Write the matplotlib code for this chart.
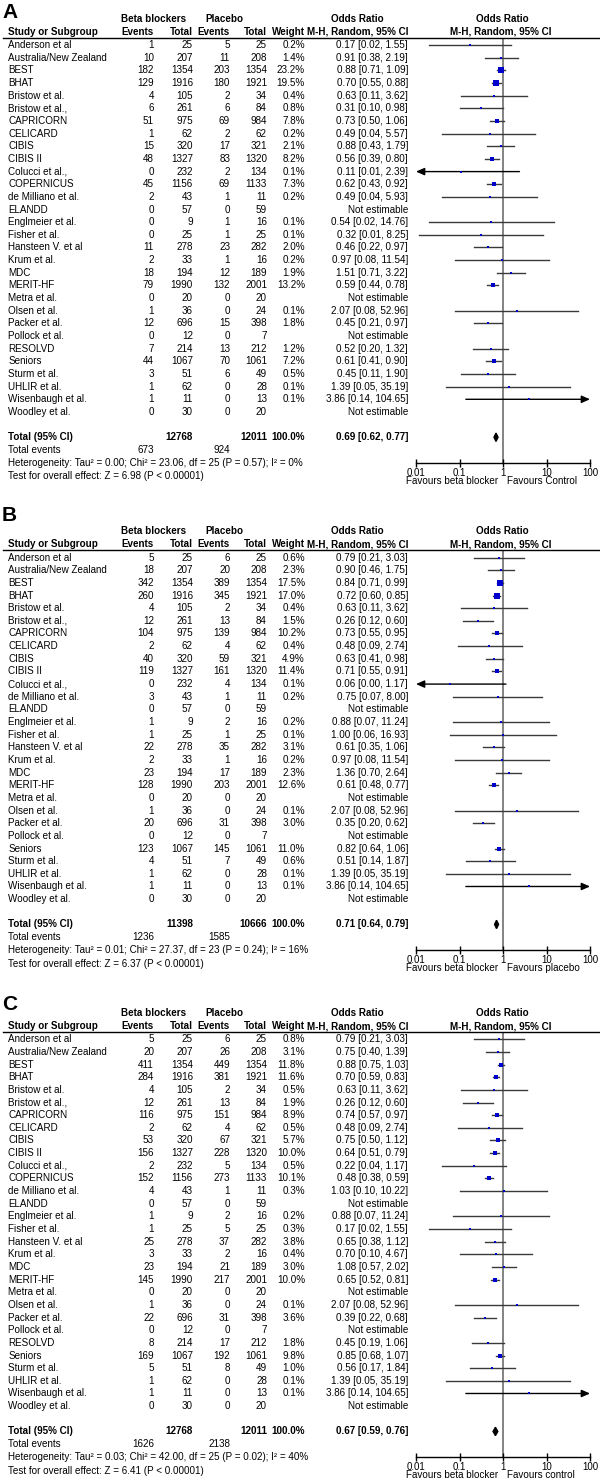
import numpy as np
import matplotlib
matplotlib.use('Agg')
import matplotlib.pyplot as plt
from matplotlib.transforms import blended_transform_factory

plt.rcParams['font.family'] = ['Liberation Sans', 'DejaVu Sans']
FS = 7.1
nan = np.nan

# ---------------- data ----------------
studies_ac = ['Anderson et al', 'Australia/New Zealand', 'BEST', 'BHAT', 'Bristow et al.',
              'Bristow et al.,', 'CAPRICORN', 'CELICARD', 'CIBIS', 'CIBIS II', 'Colucci et al.,',
              'COPERNICUS', 'de Milliano et al.', 'ELANDD', 'Englmeier et al.', 'Fisher et al.',
              'Hansteen V. et al', 'Krum et al.', 'MDC', 'MERIT-HF', 'Metra et al.', 'Olsen et al.',
              'Packer et al.', 'Pollock et al.', 'RESOLVD', 'Seniors', 'Sturm et al.', 'UHLIR et al.',
              'Wisenbaugh et al.', 'Woodley et al.']
total_bb_ac = [25, 207, 1354, 1916, 105, 261, 975, 62, 320, 1327, 232, 1156, 43, 57, 9, 25,
               278, 33, 194, 1990, 20, 36, 696, 12, 214, 1067, 51, 62, 11, 30]
total_pl_ac = [25, 208, 1354, 1921, 34, 84, 984, 62, 321, 1320, 134, 1133, 11, 59, 16, 25,
               282, 16, 189, 2001, 20, 24, 398, 7, 212, 1061, 49, 28, 13, 20]

# panel A
events_bb_a = [1, 10, 182, 129, 4, 6, 51, 1, 15, 48, 0, 45, 2, 0, 0, 0, 11, 2, 18, 79, 0, 1, 12, 0, 7, 44, 3, 1, 1, 0]
events_pl_a = [5, 11, 203, 180, 2, 6, 69, 2, 17, 83, 2, 69, 1, 0, 1, 1, 23, 1, 12, 132, 0, 0, 15, 0, 13, 70, 6, 0, 0, 0]
weight_a = [0.2, 1.4, 23.2, 19.5, 0.4, 0.8, 7.8, 0.2, 2.1, 8.2, 0.1, 7.3, 0.2, nan, 0.1, 0.1,
            2.0, 0.2, 1.9, 13.2, nan, 0.1, 1.8, nan, 1.2, 7.2, 0.5, 0.1, 0.1, nan]
or_a = [0.17, 0.91, 0.88, 0.70, 0.63, 0.31, 0.73, 0.49, 0.88, 0.56, 0.11, 0.62, 0.49, nan, 0.54, 0.32,
        0.46, 0.97, 1.51, 0.59, nan, 2.07, 0.45, nan, 0.52, 0.61, 0.45, 1.39, 3.86, nan]
lo_a = [0.02, 0.38, 0.71, 0.55, 0.11, 0.10, 0.50, 0.04, 0.43, 0.39, 0.0054, 0.43, 0.04, nan, 0.02, 0.012,
        0.22, 0.08, 0.71, 0.44, nan, 0.08, 0.21, nan, 0.20, 0.41, 0.11, 0.05, 0.14, nan]
hi_a = [1.55, 2.19, 1.09, 0.88, 3.62, 0.98, 1.06, 5.57, 1.79, 0.80, 2.39, 0.92, 5.93, nan, 14.76, 8.25,
        0.97, 11.54, 3.22, 0.78, nan, 52.96, 0.97, nan, 1.32, 0.90, 1.90, 35.19, 104.65, nan]
total_a = (12768, 12011, 673, 924, 0.69, 0.62, 0.77)
het_a = (0.00, 23.06, 25, 0.57, 0, 6.98)

# panel B
studies_b = ['Anderson et al', 'Australia/New Zealand', 'BEST', 'BHAT', 'Bristow et al.',
             'Bristow et al.,', 'CAPRICORN', 'CELICARD', 'CIBIS', 'CIBIS II', 'Colucci et al.,',
             'de Milliano et al.', 'ELANDD', 'Englmeier et al.', 'Fisher et al.', 'Hansteen V. et al',
             'Krum et al.', 'MDC', 'MERIT-HF', 'Metra et al.', 'Olsen et al.', 'Packer et al.',
             'Pollock et al.', 'Seniors', 'Sturm et al.', 'UHLIR et al.', 'Wisenbaugh et al.',
             'Woodley et al.']
events_bb_b = [5, 18, 342, 260, 4, 12, 104, 2, 40, 119, 0, 3, 0, 1, 1, 22, 2, 23, 128, 0, 1, 20, 0, 123, 4, 1, 1, 0]
total_bb_b = [25, 207, 1354, 1916, 105, 261, 975, 62, 320, 1327, 232, 43, 57, 9, 25, 278, 33, 194,
              1990, 20, 36, 696, 12, 1067, 51, 62, 11, 30]
events_pl_b = [6, 20, 389, 345, 2, 13, 139, 4, 59, 161, 4, 1, 0, 2, 1, 35, 1, 17, 203, 0, 0, 31, 0, 145, 7, 0, 0, 0]
total_pl_b = [25, 208, 1354, 1921, 34, 84, 984, 62, 321, 1320, 134, 11, 59, 16, 25, 282, 16, 189,
              2001, 20, 24, 398, 7, 1061, 49, 28, 13, 20]
weight_b = [0.6, 2.3, 17.5, 17.0, 0.4, 1.5, 10.2, 0.4, 4.9, 11.4, 0.1, 0.2, nan, 0.2, 0.1, 3.1,
            0.2, 2.3, 12.6, nan, 0.1, 3.0, nan, 11.0, 0.6, 0.1, 0.1, nan]
or_b = [0.79, 0.90, 0.84, 0.72, 0.63, 0.26, 0.73, 0.48, 0.63, 0.71, 0.06, 0.75, nan, 0.88, 1.00, 0.61,
        0.97, 1.36, 0.61, nan, 2.07, 0.35, nan, 0.82, 0.51, 1.39, 3.86, nan]
lo_b = [0.21, 0.46, 0.71, 0.60, 0.11, 0.12, 0.55, 0.09, 0.41, 0.55, 0.003, 0.07, nan, 0.07, 0.06, 0.35,
        0.08, 0.70, 0.48, nan, 0.08, 0.20, nan, 0.64, 0.14, 0.05, 0.14, nan]
hi_b = [3.03, 1.75, 0.99, 0.85, 3.62, 0.60, 0.95, 2.74, 0.98, 0.91, 1.17, 8.00, nan, 11.24, 16.93, 1.06,
        11.54, 2.64, 0.77, nan, 52.96, 0.62, nan, 1.06, 1.87, 35.19, 104.65, nan]
total_b = (11398, 10666, 1236, 1585, 0.71, 0.64, 0.79)
het_b = (0.01, 27.37, 23, 0.24, 16, 6.37)

# panel C
events_bb_c = [5, 20, 411, 284, 4, 12, 116, 2, 53, 156, 2, 152, 4, 0, 1, 1, 25, 3, 23, 145, 0, 1, 22, 0, 8, 169, 5, 1, 1, 0]
events_pl_c = [6, 26, 449, 381, 2, 13, 151, 4, 67, 228, 5, 273, 1, 0, 2, 5, 37, 2, 21, 217, 0, 0, 31, 0, 17, 192, 8, 0, 0, 0]
weight_c = [0.8, 3.1, 11.8, 11.6, 0.5, 1.9, 8.9, 0.5, 5.7, 10.0, 0.5, 10.1, 0.3, nan, 0.2, 0.3,
            3.8, 0.4, 3.0, 10.0, nan, 0.1, 3.6, nan, 1.8, 9.8, 1.0, 0.1, 0.1, nan]
or_c = [0.79, 0.75, 0.88, 0.70, 0.63, 0.26, 0.74, 0.48, 0.75, 0.64, 0.22, 0.48, 1.03, nan, 0.88, 0.17,
        0.65, 0.70, 1.08, 0.65, nan, 2.07, 0.39, nan, 0.45, 0.85, 0.56, 1.39, 3.86, nan]
lo_c = [0.21, 0.40, 0.75, 0.59, 0.11, 0.12, 0.57, 0.09, 0.50, 0.51, 0.04, 0.38, 0.10, nan, 0.07, 0.02,
        0.38, 0.10, 0.57, 0.52, nan, 0.08, 0.22, nan, 0.19, 0.68, 0.17, 0.05, 0.14, nan]
hi_c = [3.03, 1.39, 1.03, 0.83, 3.62, 0.60, 0.97, 2.74, 1.12, 0.79, 1.17, 0.59, 10.22, nan, 11.24, 1.55,
        1.12, 4.67, 2.02, 0.81, nan, 52.96, 0.68, nan, 1.06, 1.07, 1.84, 35.19, 104.65, nan]
total_c = (12768, 12011, 1626, 2138, 0.67, 0.59, 0.76)
het_c = (0.03, 42.00, 25, 0.02, 40, 6.41)

# ---------------- layout ----------------
W, H = 600, 1482
ROW = 12.65
X_NAME, X_E1, X_N1, X_E2, X_N2, X_W, X_OR = 8.5, 154, 193, 230, 267, 305, 408
FOREST_L, FOREST_R = 416, 590
LINE_C = '#3a3a3a'
SQ_C = '#0000cc'


def draw_panel(fig, letter, letter_y, line_y, names, e1, n1, e2, n2, weight, odds, lo, hi,
               totals, het, right_label):
    n = len(names)
    t_row = n + 1
    bottom = t_row + 2
    height = (bottom + 0.6) * ROW
    ax = fig.add_axes([FOREST_L / W, 1 - (line_y + height) / H,
                       (FOREST_R - FOREST_L) / W, height / H])
    ax.set_xscale('log')
    ax.set_xlim(0.01, 100)
    ax.set_ylim(bottom, -0.6)
    for s in ['top', 'left', 'right']:
        ax.spines[s].set_visible(False)
    ax.spines['bottom'].set_linewidth(1)
    ax.set_yticks([])
    ax.set_xticks([0.01, 0.1, 1, 10, 100])
    ax.set_xticklabels(['0.01', '0.1', '1', '10', '100'])
    ax.minorticks_off()
    ax.tick_params(axis='x', direction='inout', length=6, width=1, labelsize=7, pad=1)
    ax.patch.set_visible(False)
    ax.axvline(1, color='#6e6e6e', lw=1.2, zorder=1)

    tr = blended_transform_factory(fig.transFigure, ax.transData)

    def put(x, y, s, ha='right', bold=False):
        ax.text(x / W, y, s, transform=tr, ha=ha, va='center', fontsize=FS,
                fontweight='bold' if bold else 'normal')

    # header
    fig.text(2 / W, 1 - letter_y / H, letter, fontsize=15, fontweight='bold', va='center')
    hy1, hy2 = -2.1, -1.05
    put(X_E1, hy1, 'Beta blockers', ha='center', bold=True)
    put(224, hy1, 'Placebo', ha='center', bold=True)
    put(357, hy1, 'Odds Ratio', ha='center', bold=True)
    put(502, hy1, 'Odds Ratio', ha='center', bold=True)
    put(X_NAME, hy2, 'Study or Subgroup', ha='left', bold=True)
    put(X_E1, hy2, 'Events', bold=True)
    put(X_N1, hy2, 'Total', bold=True)
    put(X_E2, hy2, 'Events', bold=True)
    put(X_N2, hy2, 'Total', bold=True)
    put(X_W, hy2, 'Weight', bold=True)
    put(X_OR, hy2, 'M-H, Random, 95% CI', bold=True)
    put(501, hy2, 'M-H, Random, 95% CI', ha='center', bold=True)
    ax.plot([3 / W, 1], [1, 1], transform=blended_transform_factory(fig.transFigure, ax.transAxes),
            color='black', lw=1, clip_on=False)

    # study rows
    for i in range(n):
        put(X_NAME, i, names[i], ha='left')
        put(X_E1, i, str(e1[i]))
        put(X_N1, i, str(n1[i]))
        put(X_E2, i, str(e2[i]))
        put(X_N2, i, str(n2[i]))
        if np.isnan(weight[i]):
            put(X_OR, i, 'Not estimable')
            continue
        put(X_W, i, f'{weight[i]:.1f}%')
        put(X_OR, i, f'{odds[i]:.2f} [{lo[i]:.2f}, {hi[i]:.2f}]')
        l, h = max(lo[i], 0.01), min(hi[i], 100)
        head = dict(arrowstyle='-|>,head_length=0.5,head_width=0.22', color='black',
                    lw=1, shrinkA=0, shrinkB=0)
        if lo[i] < 0.01:
            ax.annotate('', xy=(l, i), xytext=(h, i), arrowprops=head, annotation_clip=False)
        elif hi[i] > 100:
            ax.annotate('', xy=(h, i), xytext=(l, i), arrowprops=head, annotation_clip=False)
        else:
            ax.plot([l, h], [i, i], color=LINE_C, lw=1, zorder=2)
        side_pt = max(1.6, 1.35 * np.sqrt(weight[i])) * 0.72
        ax.scatter([odds[i]], [i], marker='s', s=side_pt ** 2, color=SQ_C, lw=0, zorder=3)

    # total
    tn1, tn2, te1, te2, tor, tlo, thi = totals
    put(X_NAME, t_row, 'Total (95% CI)', ha='left', bold=True)
    put(X_N1, t_row, str(tn1), bold=True)
    put(X_N2, t_row, str(tn2), bold=True)
    put(X_W, t_row, '100.0%', bold=True)
    put(X_OR, t_row, f'{tor:.2f} [{tlo:.2f}, {thi:.2f}]', bold=True)
    ax.fill([tlo, tor, thi, tor], [t_row, t_row - 0.33, t_row, t_row + 0.33], color='black', zorder=3)

    put(X_NAME, t_row + 1, 'Total events', ha='left')
    put(X_E1, t_row + 1, str(te1))
    put(X_E2, t_row + 1, str(te2))
    tau2, chi2, df, p, i2, z = het
    put(X_NAME, t_row + 2.05,
        f'Heterogeneity: Tau² = {tau2:.2f}; Chi² = {chi2:.2f}, df = {df} (P = {p:.2f}); I² = {i2}%',
        ha='left')
    put(X_NAME, t_row + 3.1, f'Test for overall effect: Z = {z:.2f} (P < 0.00001)', ha='left')

    ax.annotate('Favours beta blocker', xy=(1, 0), xycoords=('data', 'axes fraction'),
                xytext=(-3.2, -13.5), textcoords='offset points', ha='right', va='center', fontsize=FS)
    ax.annotate(right_label, xy=(1, 0), xycoords=('data', 'axes fraction'),
                xytext=(3, -13.5), textcoords='offset points', ha='left', va='center', fontsize=FS)
    return ax


fig = plt.figure(figsize=(W / 100, H / 100), dpi=100)

draw_panel(fig, 'A', 12, 37.5, studies_ac, events_bb_a, total_bb_ac, events_pl_a, total_pl_ac,
           weight_a, or_a, lo_a, hi_a, total_a, het_a, 'Favours Control')
draw_panel(fig, 'B', 516, 550, studies_b, events_bb_b, total_bb_b, events_pl_b, total_pl_b,
           weight_b, or_b, lo_b, hi_b, total_b, het_b, 'Favours placebo')
draw_panel(fig, 'C', 1005, 1031.7, studies_ac, events_bb_c, total_bb_ac, events_pl_c, total_pl_ac,
           weight_c, or_c, lo_c, hi_c, total_c, het_c, 'Favours control')

fig.savefig('out.png', dpi=100)
